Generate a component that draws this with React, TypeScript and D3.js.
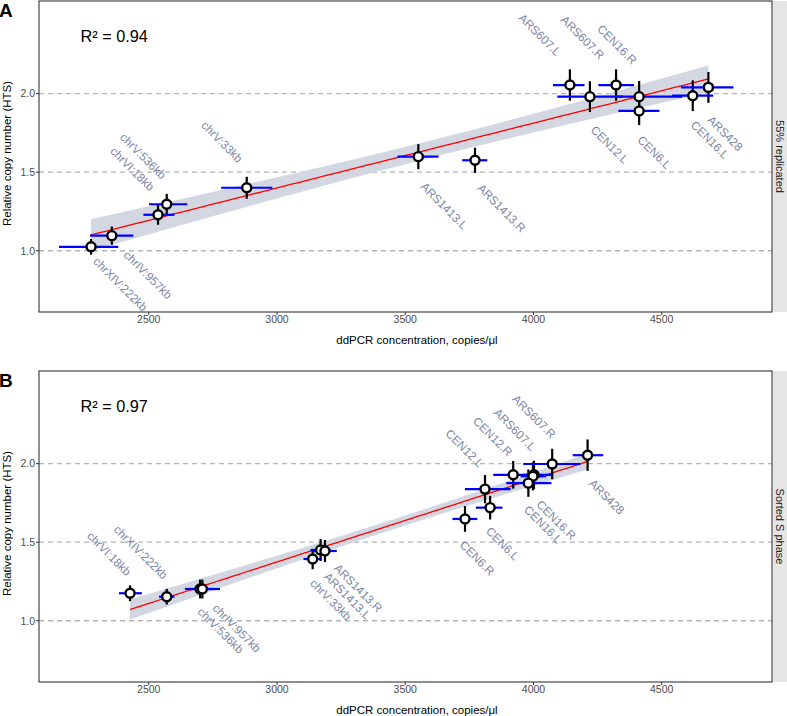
import React from "react";
import * as d3 from "d3";

// ---------- DATA ----------
const X_DOMAIN = [2072, 4930];
const Y_DOMAIN = [0.61, 2.59];
const X_TICKS = [2500, 3000, 3500, 4000, 4500];
const Y_TICKS = [1.0, 1.5, 2.0];
const Y_GRID = [1.0, 1.5, 2.0];

// Panel A: 55% replicated
const namesA = ["chrXIV:222kb", "chrIV:957kb", "chrVI:18kb", "chrV:536kb", "chrV:33kb", "ARS1413.L", "ARS1413.R",
  "ARS607.L", "CEN12.L", "ARS607.R", "CEN16.R", "CEN6.L", "CEN16.L", "ARS428"];
const xA = [2275, 2356, 2536, 2570, 2882, 3551, 3772, 4142, 4220, 4322, 4412, 4412, 4621, 4682];
const yA = [1.025, 1.096, 1.229, 1.296, 1.401, 1.599, 1.576, 2.055, 1.981, 2.055, 1.981, 1.89, 1.987, 2.04];
const xLoA = [2150, 2271, 2479, 2501, 2782, 3470, 3722, 4076, 4093, 4253, 4320, 4331, 4540, 4575];
const xHiA = [2381, 2440, 2600, 2650, 2982, 3630, 3820, 4199, 4348, 4392, 4580, 4491, 4701, 4780];
const yErrA = [0.05, 0.058, 0.064, 0.066, 0.07, 0.08, 0.08, 0.1, 0.098, 0.1, 0.1, 0.09, 0.098, 0.098];
const r2A = "R\u00b2 = 0.94";
const stripA = "55% replicated";

// Panel B: Sorted S phase
const namesB = ["chrVI:18kb", "chrXIV:222kb", "chrIV:957kb", "chrV:536kb", "chrV:33kb", "ARS1413.L", "ARS1413.R",
  "CEN6.R", "CEN6.L", "CEN12.L", "CEN12.R", "ARS607.L", "ARS607.R", "CEN16.R", "CEN16.L", "ARS428"];
const xB = [2427, 2570, 2700, 2709, 3139, 3170, 3187, 3733, 3831, 3811, 3921, 4002, 4073, 3998, 3980, 4211];
const yB = [1.175, 1.153, 1.202, 1.202, 1.393, 1.45, 1.444, 1.648, 1.72, 1.838, 1.929, 1.929, 1.998, 1.92, 1.876, 2.054];
const xLoB = [2384, 2540, 2641, 2660, 3103, 3130, 3140, 3684, 3775, 3733, 3843, 3960, 3960, 3950, 3894, 4153];
const xHiB = [2473, 2600, 2760, 2778, 3175, 3210, 3233, 3781, 3879, 3911, 4007, 4073, 4183, 4050, 4070, 4272];
const yErrB = [0.05, 0.05, 0.06, 0.06, 0.065, 0.07, 0.07, 0.082, 0.075, 0.09, 0.088, 0.09, 0.097, 0.09, 0.087, 0.1];
const r2B = "R\u00b2 = 0.97";
const stripB = "Sorted S phase";

// ---------- LABEL PLACEMENT (px offsets from point, text anchor) ----------
const labelDxA = [1.5, 11, -8.7, -5.7, -9, 1.7, 1.7, -14, 0, -16.7, -7.4, -2.3, -2.7, -1.6];
const labelDyA = [15.5, 20, -23, -24.3, -24.4, 30.7, 28.7, -28.3, 34, -25, -31.7, 29.7, 30, 33.4];
const labelDxB = [-4, -4, 11.7, -5.6, -3.4, 2.6, 8.3, -6, -5, -6.4, -5.7, -3, -1.3, 2.7, -5, 0.6];
const labelDyB = [-16.6, -16.7, 20, 23.4, 25, 27.4, 18, 26.7, 24.4, -21, -17.7, -23.3, -24.7, 29, 27.4, 29];

// ---------- LAYOUT ----------
const W = 787;
const H = 716;
const LEFT = 39;
const RIGHT = 772;
const FONT = "'Liberation Sans', Arial, Helvetica, sans-serif";

function tQuant975(df: number): number {
  const table: Record<number, number> = { 10: 2.228, 11: 2.201, 12: 2.179, 13: 2.16, 14: 2.145, 15: 2.131, 16: 2.12 };
  return table[df] ?? 2.1;
}

type PanelProps = {
  top: number; bottom: number;
  names: string[]; xs: number[]; ys: number[]; xlo: number[]; xhi: number[]; yerr: number[];
  ldx: number[]; ldy: number[];
  r2: string; strip: string; letter: string;
};

function Panel(p: PanelProps) {
  const x = d3.scaleLinear().domain(X_DOMAIN).range([LEFT, RIGHT]);
  const y = d3.scaleLinear().domain(Y_DOMAIN).range([p.bottom, p.top]);

  // linear regression with 95% CI (as geom_smooth(method = "lm"))
  const n = p.xs.length;
  const mx = d3.mean(p.xs)!;
  const my = d3.mean(p.ys)!;
  let sxx = 0, sxy = 0;
  p.xs.forEach((xi, i) => { sxx += (xi - mx) ** 2; sxy += (xi - mx) * (p.ys[i] - my); });
  const slope = sxy / sxx;
  const icpt = my - slope * mx;
  let sse = 0;
  p.xs.forEach((xi, i) => { sse += (p.ys[i] - (icpt + slope * xi)) ** 2; });
  const s = Math.sqrt(sse / (n - 2));
  const t = tQuant975(n - 2);
  const [xmin, xmax] = d3.extent(p.xs) as [number, number];
  const grid = d3.range(81).map(i => {
    const xv = xmin + (xmax - xmin) * i / 80;
    const fit = icpt + slope * xv;
    const se = s * Math.sqrt(1 / n + (xv - mx) ** 2 / sxx);
    return { x: xv, fit, lo: fit - t * se, hi: fit + t * se };
  });
  const area = d3.area<any>().x(d => x(d.x)).y0(d => y(d.lo)).y1(d => y(d.hi));
  const line = d3.line<any>().x(d => x(d.x)).y(d => y(d.fit));

  const labelColor = "#7c86a6";
  const midY = (p.top + p.bottom) / 2;

  return (
    <g>
      {/* grid */}
      {Y_GRID.map(v => (
        <line key={"g" + v} x1={LEFT} x2={RIGHT} y1={y(v)} y2={y(v)} stroke="#b5b5b5" strokeWidth={1.3} strokeDasharray="5,4" />
      ))}
      {/* CI band and fit */}
      <path d={area(grid)!} fill="#d3d7e1" />
      <path d={line(grid)!} fill="none" stroke="#ff0000" strokeWidth={1.3} />
      {/* vertical error bars */}
      {p.xs.map((xv, i) => (
        <line key={"v" + i} x1={x(xv)} x2={x(xv)} y1={y(p.ys[i] - p.yerr[i])} y2={y(p.ys[i] + p.yerr[i])} stroke="#000" strokeWidth={2.2} />
      ))}
      {/* horizontal error bars */}
      {p.xs.map((xv, i) => (
        <line key={"h" + i} x1={x(p.xlo[i])} x2={x(p.xhi[i])} y1={y(p.ys[i])} y2={y(p.ys[i])} stroke="#0000ff" strokeWidth={2.2} />
      ))}
      {/* points */}
      {p.xs.map((xv, i) => (
        <circle key={"c" + i} cx={x(xv)} cy={y(p.ys[i])} r={4.5} fill="#fff" stroke="#000" strokeWidth={2.4} />
      ))}
      {/* labels */}
      {p.names.map((nm, i) => {
        const px = x(p.xs[i]) + p.ldx[i];
        const py = y(p.ys[i]) + p.ldy[i];
        return (
          <text key={"l" + i} transform={`translate(${px},${py}) rotate(45)`} textAnchor={p.ldy[i] < 0 ? "end" : "start"}
            fontSize={11.8} fill={labelColor} fontFamily={FONT}>{nm}</text>
        );
      })}
      {/* border */}
      <rect x={LEFT} y={p.top} width={RIGHT - LEFT} height={p.bottom - p.top} fill="none" stroke="#333" strokeWidth={1.1} />
      {/* R2 */}
      <text x={80.5} y={p.top + 41} fontSize={16.3} fill="#000" fontFamily={FONT}>{p.r2}</text>
      {/* y ticks */}
      {Y_TICKS.map(v => (
        <g key={"yt" + v}>
          <line x1={LEFT - 3} x2={LEFT} y1={y(v)} y2={y(v)} stroke="#333" strokeWidth={1} />
          <text x={LEFT - 4} y={y(v) + 3.8} textAnchor="end" fontSize={10.5} fill="#4d4d4d" fontFamily={FONT}>{v.toFixed(1)}</text>
        </g>
      ))}
      {/* x ticks */}
      {X_TICKS.map(v => (
        <g key={"xt" + v}>
          <line x1={x(v)} x2={x(v)} y1={p.bottom} y2={p.bottom + 3} stroke="#333" strokeWidth={1} />
          <text x={x(v)} y={p.bottom + 11} textAnchor="middle" fontSize={10.5} fill="#4d4d4d" fontFamily={FONT}>{v}</text>
        </g>
      ))}
      {/* axis titles */}
      <text x={417} y={p.bottom + 32} textAnchor="middle" fontSize={11.5} fill="#000" fontFamily={FONT}>ddPCR concentration, copies/μl</text>
      <text transform={`translate(11,${midY - 3}) rotate(-90)`} textAnchor="middle" fontSize={11.5} fill="#000" fontFamily={FONT}>Relative copy number (HTS)</text>
      {/* strip */}
      <rect x={RIGHT + 1} y={p.top} width={20} height={p.bottom - p.top} fill="#e5e5e5" />
      <text transform={`translate(775.5,${midY}) rotate(90)`} textAnchor="middle" fontSize={11} fill="#1a1a1a" fontFamily={FONT}>{p.strip}</text>
      {/* panel letter */}
      <text x={-1} y={p.top + 16} fontSize={19} fontWeight="bold" fill="#000" fontFamily={FONT}>{p.letter}</text>
    </g>
  );
}

export default function App() {
  return (
    <svg width={W} height={H} viewBox={`0 0 ${W} ${H}`} style={{ position: "fixed", left: 0, top: 0, background: "#fff" }}>
      <rect x={0} y={0} width={W} height={H} fill="#fff" />
      <Panel top={1} bottom={312} names={namesA} xs={xA} ys={yA} xlo={xLoA} xhi={xHiA} yerr={yErrA}
        ldx={labelDxA} ldy={labelDyA} r2={r2A} strip={stripA} letter="A" />
      <Panel top={371} bottom={682} names={namesB} xs={xB} ys={yB} xlo={xLoB} xhi={xHiB} yerr={yErrB}
        ldx={labelDxB} ldy={labelDyB} r2={r2B} strip={stripB} letter="B" />
    </svg>
  );
}
